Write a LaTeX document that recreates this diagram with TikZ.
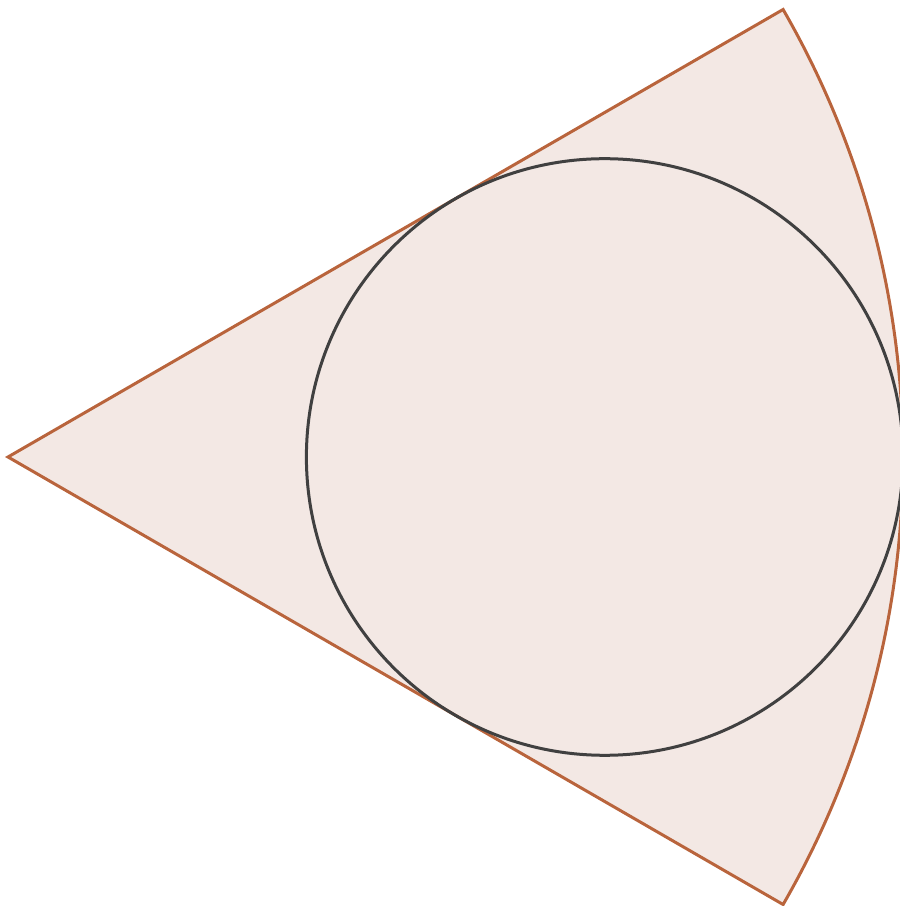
\documentclass[tikz,border=0pt]{standalone}
\usetikzlibrary{calc}
\begin{document}
\begin{tikzpicture}[x=1pt,y=1pt,
  sector/.style={draw={rgb,255:red,185;green,100;blue,60},fill={rgb,255:red,243;green,232;blue,228},line width=3pt,line join=miter},
  incircle/.style={draw={rgb,255:red,64;green,64;blue,64},line width=3pt}]
\clip (0,0) rectangle (900,906);
\useasboundingbox (0,0) rectangle (900,906);
\coordinate (O) at (8,449);
\coordinate (C) at (604.7,449);
\draw[sector] (O) -- ++(30:895) arc[start angle=30,end angle=-30,radius=895] -- cycle;
\draw[incircle] (C) circle[radius=298.3];
\end{tikzpicture}
\end{document}
